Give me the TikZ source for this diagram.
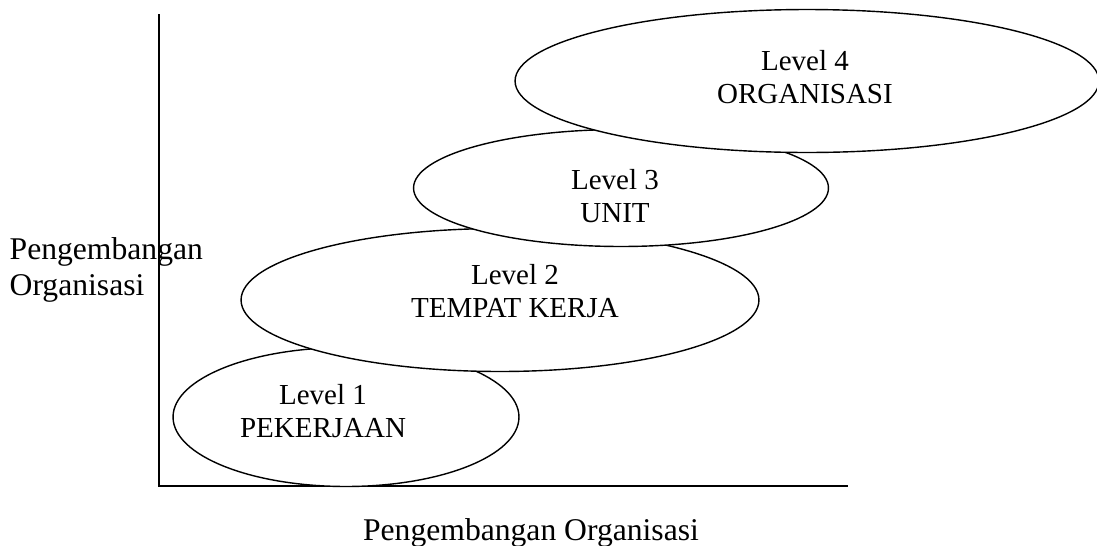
\documentclass[tikz,border=0pt]{standalone}
\usepackage{fontspec}
\setmainfont{Liberation Serif}
\usetikzlibrary{shapes.geometric}

\begin{document}
\begin{tikzpicture}[x=0.02cm, y=-0.02cm, line width=0.8pt,
        levelbox/.style={ellipse, draw, fill=white, inner sep=0pt},
        leveltext/.style={align=center, inner sep=0pt, font=\fontsize{16.5}{19}\selectfont},
        axislabel/.style={inner sep=0pt, font=\fontsize{18}{20}\selectfont}]
        \useasboundingbox (0,0) rectangle (1097,545);

        % Axes
        \coordinate (ytop) at (159,14);
        \coordinate (o) at (159,486);
        \coordinate (xend) at (848,486);
        \draw (ytop) -- (o) -- (xend);

        % Axis labels
        \node[axislabel, anchor=west, align=left] (ylab) at (9,270) {Pengembangan\\Organisasi};
        \node[axislabel, anchor=base] (xlab) at (531,540) {Pengembangan Organisasi};
        \draw (ytop) -- (o);

        % Levels, each one drawn over the one below
        \node[levelbox, minimum width=6.92cm, minimum height=2.78cm] (lv1) at (346,417) {};
        \node[leveltext] (t1) at (323,411) {Level 1\\PEKERJAAN};
        \node[levelbox, minimum width=10.36cm, minimum height=2.86cm] (lv2) at (500,300) {};
        \node[leveltext] (t2) at (515,291) {Level 2\\TEMPAT KERJA};
        \node[levelbox, minimum width=8.3cm, minimum height=2.34cm] (lv3) at (621,188) {};
        \node[leveltext] (t3) at (615,196) {Level 3\\UNIT};
        \node[levelbox, minimum width=11.68cm, minimum height=2.86cm] (lv4) at (807,81) {};
        \node[leveltext] (t4) at (805,77) {Level 4\\ORGANISASI};
\end{tikzpicture}
\end{document}
